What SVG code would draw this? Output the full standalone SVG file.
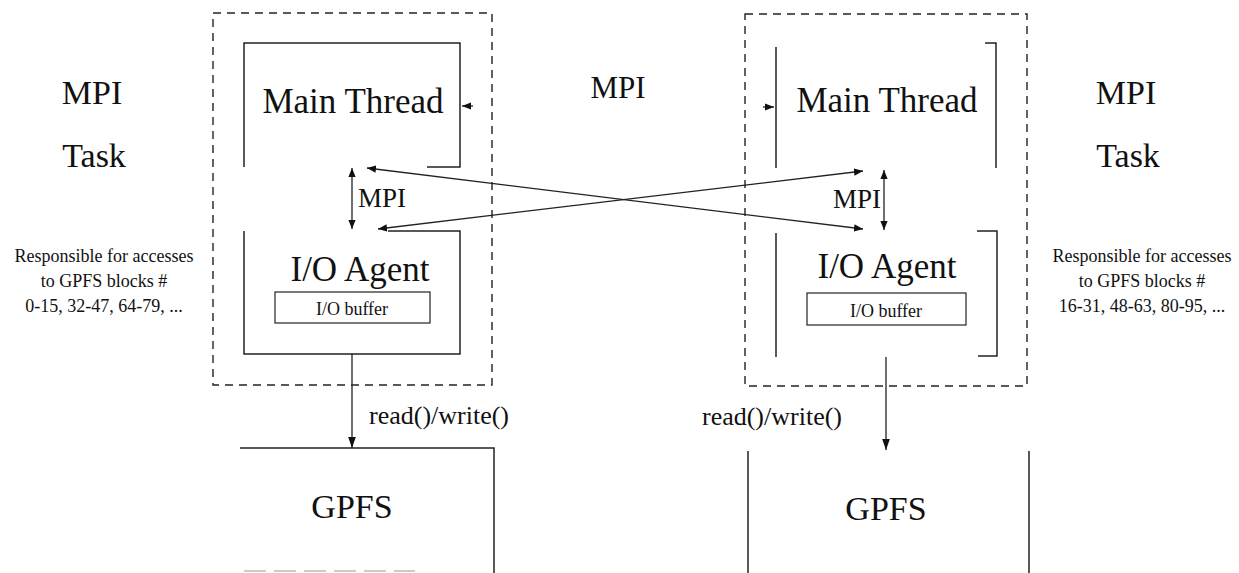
<svg xmlns="http://www.w3.org/2000/svg" width="1239" height="573" viewBox="0 0 1239 573">
<style>
text{font-family:"Liberation Serif","Times New Roman",serif;fill:#111;text-anchor:middle}
.big{font-size:35px}
.lbl{font-size:34px}
.mpi{font-size:27px}
.small{font-size:18px}
.rw{font-size:26px}
.box{fill:none;stroke:#222;stroke-width:1.5}
.dash{fill:none;stroke:#222;stroke-width:1.4;stroke-dasharray:8 6}
.conn{fill:none;stroke:#222;stroke-width:1.3}
</style>
<defs>
<marker id="ah" viewBox="0 0 10 10" refX="10" refY="5" markerWidth="9" markerHeight="9" markerUnits="userSpaceOnUse" orient="auto-start-reverse">
<path d="M0,1 L10,5 L0,9 z" fill="#111"/>
</marker>
<marker id="ahb" viewBox="0 0 10 10" refX="10" refY="5" markerWidth="11" markerHeight="11" markerUnits="userSpaceOnUse" orient="auto-start-reverse">
<path d="M0,1.5 L10,5 L0,8.5 z" fill="#111"/>
</marker>
</defs>

<g id="left-labels">
<text class="lbl" x="92" y="104">MPI</text>
<text class="lbl" x="94" y="167">Task</text>
<text class="small" x="104" y="262">Responsible for accesses</text>
<text class="small" x="104" y="287">to GPFS blocks #</text>
<text class="small" x="104" y="312">0-15, 32-47, 64-79, ...</text>
</g>

<g id="right-labels">
<text class="lbl" x="1126" y="104">MPI</text>
<text class="lbl" x="1128" y="167">Task</text>
<text class="small" x="1142" y="262">Responsible for accesses</text>
<text class="small" x="1142" y="287">to GPFS blocks #</text>
<text class="small" x="1142" y="312">16-31, 48-63, 80-95, ...</text>
</g>

<g id="middle-mpi">
<text class="lbl" x="618" y="98" style="font-size:31px">MPI</text>
</g>

<g id="left-task">
<rect class="dash" x="213" y="13" width="279" height="372"/>
</g>
<g id="left-main-thread">
<path class="box" d="M244,167 V43 H460 V167 H427"/>
<text class="big" x="353" y="113">Main Thread</text>
</g>
<g id="left-io-agent">
<path class="box" d="M388,231 H460 V354 H244 V231"/>
<text class="big" x="360" y="281">I/O Agent</text>
</g>
<g id="left-io-buffer">
<rect class="box" x="275" y="292" width="155" height="31" style="stroke-width:1.2"/>
<text class="small" x="352" y="315">I/O buffer</text>
</g>
<g id="left-gpfs">
<path class="box" d="M240,448 H494 V573"/>
<path d="M244,571 H415" fill="none" stroke="#bbb" stroke-width="1.5" stroke-dasharray="22 8"/>
<text class="lbl" x="352" y="518">GPFS</text>
</g>

<g id="right-task">
<rect class="dash" x="745" y="14" width="282" height="372"/>
</g>
<g id="right-main-thread">
<path class="box" d="M776,47 V168 M985,43 H996 V168"/>
<text class="big" x="887" y="112">Main Thread</text>
</g>
<g id="right-io-agent">
<path class="box" d="M776,233 V357 M977,231 H997 V356 H978"/>
<text class="big" x="887" y="278">I/O Agent</text>
</g>
<g id="right-io-buffer">
<rect class="box" x="807" y="293" width="159" height="32" style="stroke-width:1.2"/>
<text class="small" x="886" y="317">I/O buffer</text>
</g>
<g id="right-gpfs">
<path class="box" d="M748,451 V573 M1029,451 V573"/>
<text class="lbl" x="886" y="520">GPFS</text>
</g>

<g id="connectors">
<line class="conn" x1="352" y1="168" x2="352" y2="229" marker-start="url(#ah)" marker-end="url(#ah)"/>
<text class="mpi" x="382" y="207">MPI</text>
<line class="conn" x1="884" y1="170" x2="884" y2="230" marker-start="url(#ah)" marker-end="url(#ah)"/>
<text class="mpi" x="857" y="208">MPI</text>
<line class="conn" x1="367" y1="168" x2="863" y2="229" marker-start="url(#ah)" marker-end="url(#ah)"/>
<line class="conn" x1="378" y1="229" x2="863" y2="171" marker-start="url(#ah)" marker-end="url(#ah)"/>
<line class="conn" x1="473" y1="106" x2="462" y2="106" marker-end="url(#ah)"/>
<line class="conn" x1="763" y1="107" x2="774" y2="107" marker-end="url(#ah)"/>
<line class="conn" x1="352" y1="354" x2="352" y2="448" marker-end="url(#ahb)"/>
<text class="rw" x="369" y="424" style="text-anchor:start">read()/write()</text>
<line class="conn" x1="886" y1="357" x2="886" y2="450" marker-end="url(#ahb)"/>
<text class="rw" x="842" y="425" style="text-anchor:end">read()/write()</text>
</g>
</svg>
